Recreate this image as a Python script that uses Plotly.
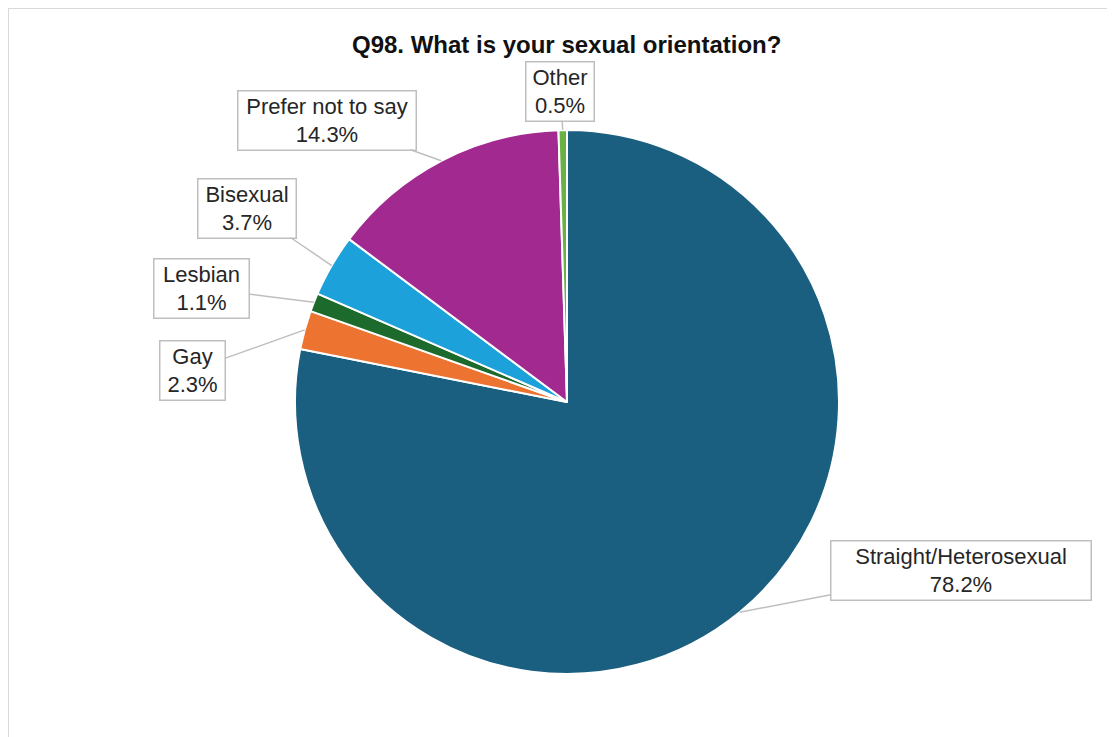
import math
import plotly.graph_objects as go

categories = ["Straight/Heterosexual", "Gay", "Lesbian", "Bisexual", "Prefer not to say", "Other"]
values = [78.2, 2.3, 1.1, 3.7, 14.3, 0.5]
colors = ["#1A5E80", "#EC7330", "#1D6B2C", "#1DA1DA", "#A1298F", "#6AB044"]

OFF = 8  # page body margin
W, H = 1115 - OFF, 737 - OFF
CX, CY, R = 567 - OFF, 402 - OFF, 272  # pixel center and radius

# label box centres (screen pixels) and widths
box_centres = [(961, 570), (192, 370), (201, 288), (247, 208), (327, 120), (560, 91)]
box_widths = [262, 67, 97, 100, 180, 70]

fig = go.Figure(go.Pie(
    labels=categories, values=values, sort=False, direction="clockwise", rotation=0,
    marker=dict(colors=colors, line=dict(color="white", width=2)),
    textinfo="none", hoverinfo="label+percent", showlegend=False,
    domain=dict(x=[(CX - R) / W, (CX + R) / W], y=[(H - CY - R) / H, (H - CY + R) / H]),
))

PAD = 2
total = sum(values)
cum = 0
annotations = []
for cat, v, (bx, by), bw in zip(categories, values, box_centres, box_widths):
    mid = (cum + v / 2) / total * 2 * math.pi
    cum += v
    px = CX + R * math.sin(mid)
    py = CY - R * math.cos(mid)
    annotations.append(dict(
        x=px / W, y=1 - py / H, xref="paper", yref="paper",
        text=f"{cat}<br>{v:.1f}%", showarrow=True, arrowhead=0, arrowwidth=1.5,
        arrowcolor="#BFBFBF", ax=(bx - OFF) - px, ay=(by - OFF) - py,
        bordercolor="#BFBFBF", borderwidth=1.5, borderpad=PAD, bgcolor="white",
        width=bw - 2 * PAD - 3, align="center",
        font=dict(family="Liberation Sans, Arial, sans-serif", size=22, color="#262626"),
    ))

annotations.append(dict(
    x=(566 - OFF) / W, y=1 - (45 - OFF) / H, xref="paper", yref="paper", showarrow=False,
    xanchor="center", yanchor="middle",
    text="<b>Q98. What is your sexual orientation?</b>",
    font=dict(family="Liberation Sans, Arial, sans-serif", size=24, color="#111111"),
))

fig.update_layout(
    width=W, height=H, margin=dict(l=0, r=0, t=0, b=0),
    paper_bgcolor="white", plot_bgcolor="white",
    annotations=annotations,
    shapes=[dict(type="rect", xref="paper", yref="paper",
                 x0=0, x1=1.2, y0=-0.2, y1=1,
                 line=dict(color="#D9D9D9", width=2))],
)

fig.write_html("out.html")
